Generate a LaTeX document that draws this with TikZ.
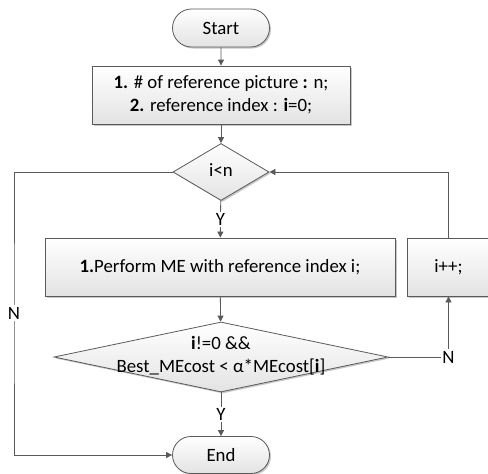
\documentclass[tikz,border=0pt]{standalone}
\usepackage{fontspec}
\setmainfont{Carlito}
\usetikzlibrary{shapes.geometric,shapes.misc,arrows.meta,shadows}
\definecolor{ln}{HTML}{5A5A5A}
\begin{document}
\begin{tikzpicture}[x=1pt,y=-1pt,
  font=\fontsize{18.8}{23}\selectfont,
  shp/.style={draw=ln, line width=0.8pt, top color=white, bottom color=gray!22,
    drop shadow={shadow xshift=1.5pt, shadow yshift=-1.5pt, fill=gray!55, opacity=0.8},
    inner sep=0pt, align=center},
  terminal/.style={shp, rounded rectangle, minimum width=97pt, minimum height=38pt},
  proc/.style={shp, rectangle, minimum height=58pt},
  decide/.style={shp, diamond},
  conn/.style={draw=ln, line width=0.8pt},
  arr/.style={conn, -{Triangle[length=6pt,width=6pt]}},
  lbl/.style={fill=white, inner sep=1.5pt, text=black}]
\useasboundingbox (0,0) rectangle (488,474);

\node[terminal] (start) at (221,28) {Start};
\node[proc, minimum width=258pt] (init) at (221,95)
  {\textbf{1.} \# of reference picture \textbf{:} n;\\ \textbf{2.} reference index : \textbf{i}=0;};
\node[decide, minimum width=96pt, minimum height=57pt, aspect=1.7] (cond) at (221,172) {};
\node (condtext) at (221,170) {i<n};
\node[proc, minimum width=350pt] (me) at (220,267) {\textbf{1.}Perform ME with reference index i;};
\node[proc, minimum width=83pt] (inc) at (448.5,267) {i++;};
\node[decide, minimum width=334pt, minimum height=70pt, aspect=4.77] (stop) at (221,357) {};
\node[align=center] (stoptext) at (221,356) {\textbf{i}!=0 \&\&\\ Best\_MEcost < α*MEcost[\textbf{i}]};
\node[terminal, minimum height=37pt] (end) at (221,455) {End};

\coordinate (L) at (14,313);

\draw[arr] (start) -- (init);
\draw[arr] (init) -- (cond);
\draw[arr] (cond) -- node[lbl] {Y} (me);
\draw[arr] (me) -- (stop);
\draw[arr] (stop) -- node[lbl] {Y} (end);
\draw[arr] (stop.east) -- (stop.east -| inc) node[lbl] {N} -- (inc.south);
\draw[arr] (inc.north) |- (cond.east);
\draw[arr] (cond.west) -| (L) node[lbl] {N} |- (end.west);
\end{tikzpicture}
\end{document}
